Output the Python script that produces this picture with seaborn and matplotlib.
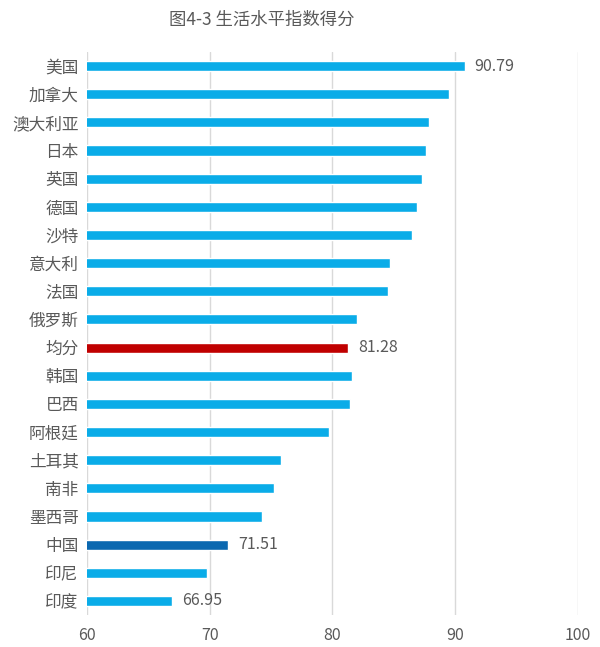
import matplotlib
matplotlib.use("Agg")
import matplotlib.pyplot as plt
import seaborn as sns
import pandas as pd

categories = ["美国", "加拿大", "澳大利亚", "日本", "英国", "德国", "沙特", "意大利", "法国", "俄罗斯",
              "均分", "韩国", "巴西", "阿根廷", "土耳其", "南非", "墨西哥", "中国", "印尼", "印度"]
values = [90.79, 89.5, 87.85, 87.66, 87.3, 86.9, 86.5, 84.7, 84.5, 82.0,
          81.28, 81.6, 81.4, 79.7, 75.8, 75.2, 74.3, 71.51, 69.75, 66.95]
labeled = {"美国": "90.79", "均分": "81.28", "中国": "71.51", "印度": "66.95"}
x_ticks = [60, 70, 80, 90, 100]
title = "图4-3 生活水平指数得分"

BLUE = "#0AACE8"
palette = {c: BLUE for c in categories}
palette["均分"] = "#C00000"
palette["中国"] = "#0B68B0"

sns.set_theme(style="white")
plt.rcParams['font.family'] = ['Noto Sans CJK SC', 'DejaVu Sans']

df = pd.DataFrame({"country": categories, "score": values})

fig = plt.figure(figsize=(6.0, 6.47), dpi=100)
ax = fig.add_axes([0.145, 0.0495, 0.818, 0.8701])
sns.barplot(data=df, x="score", y="country", hue="country", palette=palette,
            order=categories, hue_order=categories, width=0.36, legend=False,
            ax=ax, saturation=1)

ax.set_xlim(60, 100)
ax.set_ylim(len(categories) - 0.5, -0.5)
ax.set_xticks(x_ticks)
ax.set_xticklabels([str(t) for t in x_ticks])
ax.xaxis.grid(True, color="#D9D9D9", linewidth=1)
ax.set_axisbelow(True)
for s in ax.spines.values():
    s.set_visible(False)
ax.set_xlabel("")
ax.set_ylabel("")
ax.tick_params(axis="x", length=0, labelsize=11.5, colors="#595959", pad=9)
ax.tick_params(axis="y", length=0, labelsize=12, colors="#595959", pad=6)

for i, c in enumerate(categories):
    if c in labeled:
        ax.text(values[i] + 0.8, i, labeled[c], va="center", ha="left",
                fontsize=11.5, color="#595959")

fig.text(0.437, 0.969, title, ha="center", va="center", fontsize=12.5, color="#595959")
fig.savefig("out.png", dpi=100)
